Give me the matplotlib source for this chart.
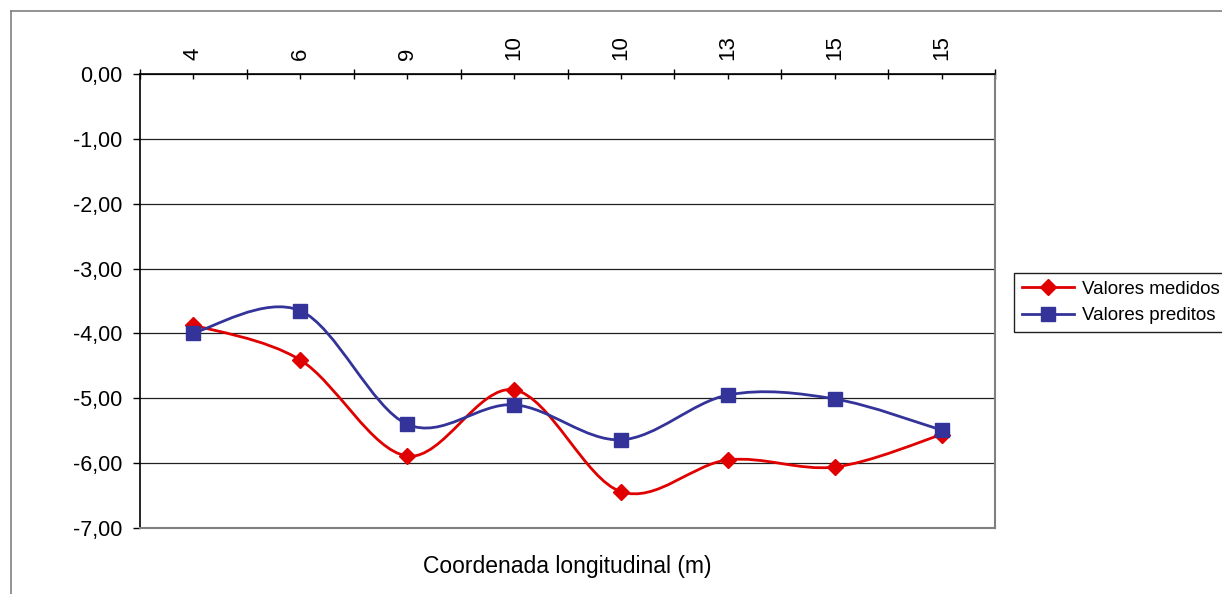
import numpy as np
import matplotlib
matplotlib.use("Agg")
import matplotlib.pyplot as plt
from matplotlib.path import Path
from matplotlib.patches import PathPatch
from matplotlib.lines import Line2D

plt.rcParams['font.family'] = ['Liberation Sans', 'DejaVu Sans']

categories = ["4", "6", "9", "10", "10", "13", "15", "15"]
medidos = [-3.87, -4.41, -5.89, -4.87, -6.44, -5.95, -6.06, -5.56]
preditos = [-3.99, -3.65, -5.40, -5.10, -5.64, -4.95, -5.01, -5.49]
y_ticks = [0, -1, -2, -3, -4, -5, -6, -7]
y_labels = ["0,00", "-1,00", "-2,00", "-3,00", "-4,00", "-5,00", "-6,00", "-7,00"]

W, H = 1222, 594
fig = plt.figure(figsize=(W / 100, H / 100), dpi=100)
ax = fig.add_axes([140 / W, 1 - 528 / H, (995 - 140) / W, (528 - 74) / H])

RED = '#E00000'
BLUE = '#333399'


def smooth_path(xs, ys):
    P = np.column_stack([xs, ys]).astype(float)
    n = len(P)
    verts = [P[0]]
    codes = [Path.MOVETO]
    for i in range(n - 1):
        p0 = P[i - 1] if i > 0 else P[i]
        p1 = P[i]
        p2 = P[i + 1]
        p3 = P[i + 2] if i + 2 < n else P[i + 1]
        c1 = p1 + (p2 - p0) / 6.0
        c2 = p2 - (p3 - p1) / 6.0
        verts += [c1, c2, p2]
        codes += [Path.CURVE4] * 3
    return Path(verts, codes)


LW = 2.0
x = np.arange(len(categories))
for ys, col, mk, ms in [(medidos, RED, 'D', 8), (preditos, BLUE, 's', 9.5)]:
    ax.add_patch(PathPatch(smooth_path(x, ys), fill=False, edgecolor=col, lw=LW, zorder=3))
    ax.plot(x, ys, linestyle='none', marker=mk, color=col, ms=ms, zorder=4)

ax.set_xlim(-0.5, len(categories) - 0.5)
ax.set_ylim(-7, 0)
ax.set_yticks(y_ticks)
ax.set_yticklabels(y_labels, fontsize=15.5)
ax.yaxis.grid(True, color='#202020', lw=0.9)
ax.set_axisbelow(True)
ax.tick_params(axis='y', direction='out', length=5, width=1, pad=8)

ax.xaxis.tick_top()
ax.set_xticks(np.arange(-0.5, len(categories)), minor=False)
ax.set_xticklabels([''] * (len(categories) + 1))
ax.set_xticks(x, minor=True)
ax.set_xticklabels(categories, minor=True, rotation=90, fontsize=16)
ax.tick_params(axis='x', which='major', direction='inout', length=7, width=1, top=True, bottom=False)
ax.tick_params(axis='x', which='minor', direction='in', length=3.5, width=1, top=True, bottom=False, pad=10)

for s in ['top', 'left']:
    ax.spines[s].set_color('black')
    ax.spines[s].set_linewidth(1.2)
for s in ['bottom', 'right']:
    ax.spines[s].set_color('#808080')
    ax.spines[s].set_linewidth(1.5)

fig.text((140 + 995) / 2 / W, 1 - 566 / H, 'Coordenada longitudinal (m)', ha='center', va='center', fontsize=16.5)

handles = [Line2D([], [], color=RED, lw=LW, marker='D', ms=8),
           Line2D([], [], color=BLUE, lw=LW, marker='s', ms=9.5)]
lg = fig.legend(handles, ['Valores medidos', 'Valores preditos'], loc='upper left',
                bbox_to_anchor=(1014 / W, 1 - 273 / H), bbox_transform=fig.transFigure,
                borderaxespad=0, fancybox=False, edgecolor='#202020', framealpha=1,
                fontsize=13.5, handlelength=2.8, handletextpad=0.4, borderpad=0.4,
                labelspacing=0.5)
lg.get_frame().set_linewidth(1.0)

fig.add_artist(Line2D([10.5 / W, 10.5 / W], [0, 1 - 11 / H], transform=fig.transFigure, color='#808080', lw=1.2))
fig.add_artist(Line2D([10.5 / W, 1], [1 - 11 / H, 1 - 11 / H], transform=fig.transFigure, color='#808080', lw=1.2))

fig.savefig('out.png', dpi=100)
